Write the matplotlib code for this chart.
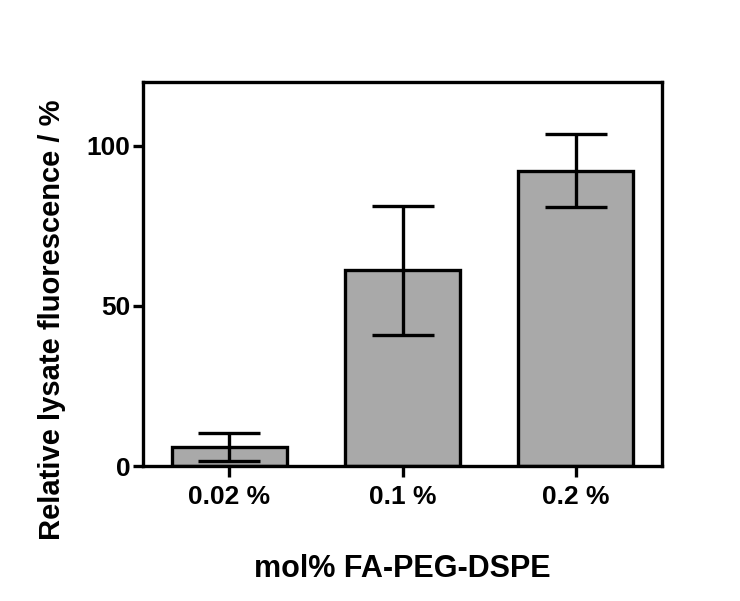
import matplotlib.pyplot as plt

labels = ["0.02 %", "0.1 %", "0.2 %"]
means = [6.0, 61.2, 92.2]
errors = [4.4, 20.2, 11.4]

plt.rcParams['font.family'] = ['Liberation Sans', 'DejaVu Sans']
plt.rcParams['font.weight'] = 'bold'

fig = plt.figure(figsize=(7.4, 6.01), dpi=100)
ax = fig.add_axes([0.193, 0.2246, 0.702, 0.639])

x = list(range(len(labels)))
ax.bar(x, means, width=0.665, color="#a9a9a9", edgecolor="black", linewidth=2.4,
       yerr=errors, capsize=22, error_kw=dict(elinewidth=2.4, capthick=2.4, ecolor="black"))

ax.set_xlim(-0.5, 2.5)
ax.set_ylim(0, 120)
ax.set_yticks([0, 50, 100])
ax.set_xticks(x)
ax.set_xticklabels(labels)

for s in ax.spines.values():
    s.set_linewidth(2.4)
ax.tick_params(axis="y", direction="out", length=7, width=2.4, labelsize=19, pad=2)
ax.tick_params(axis="x", direction="out", length=8, width=2.4, labelsize=19, pad=6)

ax.set_ylabel("Relative lysate fluorescence / %", fontsize=21, fontweight="bold")
ax.yaxis.set_label_coords(-0.148, 0.38)
ax.set_xlabel("mol% FA-PEG-DSPE", fontsize=22, fontweight="bold", labelpad=32)

fig.savefig("out.png", dpi=100)
